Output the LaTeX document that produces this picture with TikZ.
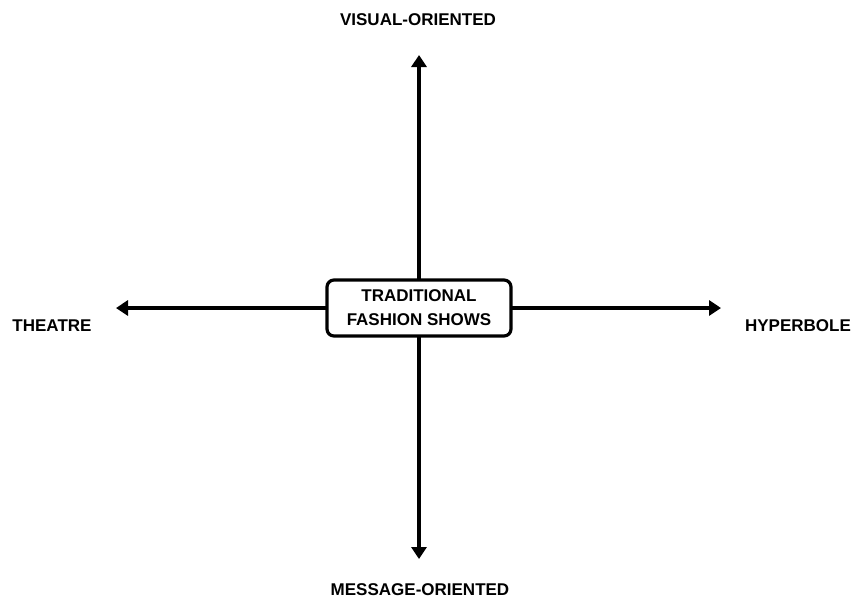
\documentclass[tikz,border=0pt]{standalone}
\usepackage{fontspec}
\setmainfont{Liberation Sans}
\usetikzlibrary{arrows.meta}
\begin{document}
\begin{tikzpicture}[x=1pt,y=-1pt,
  axis/.style={line width=3.6pt,-{Triangle[length=12pt,width=15pt]}},
  lbl/.style={font=\bfseries\fontsize{17}{20}\selectfont,inner sep=0pt},
  centerbox/.style={draw,line width=3.2pt,rounded corners=7pt,fill=white,minimum width=184pt,minimum height=56pt,align=center,font=\bfseries\fontsize{17}{24}\selectfont}]
\useasboundingbox (0,0) rectangle (853,603);
\coordinate (c) at (419,308);
\coordinate (top) at (419,55);
\coordinate (bot) at (419,559);
\coordinate (lft) at (116,308);
\coordinate (rgt) at (721,308);
\draw[axis] (c) -- (top);
\draw[axis] (c) -- (bot);
\draw[axis] (c) -- (lft);
\draw[axis] (c) -- (rgt);
\node[centerbox] (box) at (419,308) {TRADITIONAL\\FASHION SHOWS};
\node[lbl] (v) at (418,19.5) {VISUAL-ORIENTED};
\node[lbl] (m) at (420,590) {MESSAGE-ORIENTED};
\node[lbl] (t) at (52,326) {THEATRE};
\node[lbl] (h) at (798,326) {HYPERBOLE};
\end{tikzpicture}
\end{document}
